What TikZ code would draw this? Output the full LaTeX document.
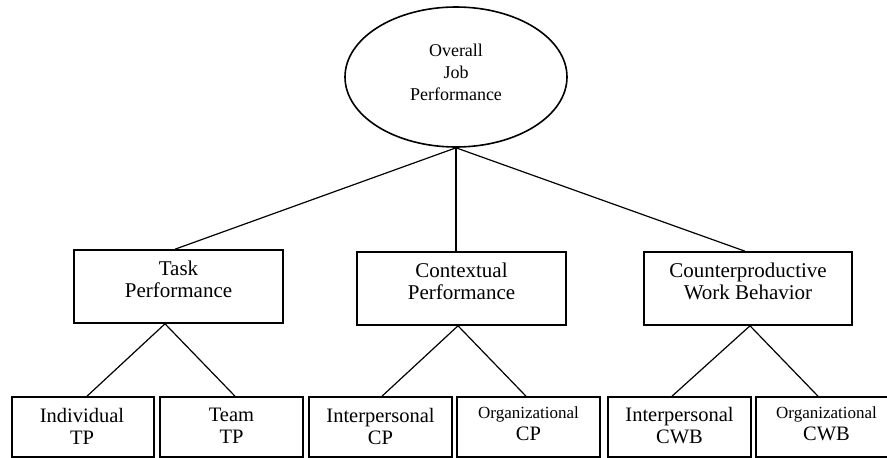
\documentclass[tikz,border=0pt]{standalone}
\usepackage{fontspec}
\setmainfont{Liberation Serif}
\usetikzlibrary{shapes.geometric}
\begin{document}
\begin{tikzpicture}[x=1pt,y=-1pt,
  boxshape/.style={draw=black,line width=1.6pt,rectangle,inner sep=0pt},
  midbox/.style={boxshape,minimum width=209pt,minimum height=73pt},
  lowbox/.style={boxshape,minimum width=143pt,minimum height=60pt},
  link/.style={draw=black,line width=1.2pt},
  txt/.style={align=center,inner sep=0pt,font=\fontsize{21}{22}\selectfont},
  lowtxt/.style={align=center,inner sep=0pt,font=\fontsize{20.5}{22}\selectfont},
  smalltxt/.style={font=\fontsize{17}{18}\selectfont}]
\useasboundingbox (0,0) rectangle (887,458);
\clip (0,0) rectangle (887,458);
\fill[white] (0,0) rectangle (887,458);
% top ellipse
\node[draw=black,ellipse,line width=1.6pt,minimum width=222pt,minimum height=140pt,inner sep=0pt] (ov) at (456,77) {};
\node[align=center,inner sep=0pt,font=\fontsize{18}{22}\selectfont] (ovT) at (456,72) {Overall\\Job\\Performance};
% middle boxes
\node[midbox] (task) at (178.5,286.5) {};
\node[txt] (taskT) at (178.5,279) {Task\\Performance};
\node[midbox] (ctx) at (461.5,288.5) {};
\node[txt] (ctxT) at (461.5,281) {Contextual\\Performance};
\node[midbox,minimum width=208pt] (cwb) at (748,288.5) {};
\node[txt] (cwbT) at (748,281) {Counterproductive\\Work Behavior};
% bottom boxes
\node[lowbox,minimum width=142pt] (ind) at (83,427) {};
\node[lowtxt] (indT) at (82,426) {Individual\\TP};
\node[lowbox] (team) at (231.5,427) {};
\node[lowtxt] (teamT) at (231.5,426) {Team\\TP};
\node[lowbox] (icp) at (380.5,427) {};
\node[lowtxt] (icpT) at (380.5,426) {Interpersonal\\CP};
\node[lowbox] (ocp) at (528.5,427) {};
\node[lowtxt] (ocpT) at (528.5,424) {{\fontsize{17}{18}\selectfont Organizational}\\CP};
\node[lowbox] (icwb) at (679.5,427) {};
\node[lowtxt] (icwbT) at (679.5,426) {Interpersonal\\CWB};
\node[lowbox,minimum width=141pt] (ocwb) at (826.5,427) {};
\node[lowtxt] (ocwbT) at (826.5,424) {{\fontsize{17}{18}\selectfont Organizational}\\CWB};
% connectors
\draw[link] (ov.south) -- ([xshift=-3.5pt]task.north);
\draw[link] (ov.south) -- (ov.south |- ctx.north);
\draw[link] (ov.south) -- ([xshift=-3pt]cwb.north);
\draw[link] ([xshift=-13.5pt]task.south) -- ([xshift=4pt]ind.north);
\draw[link] ([xshift=-13.5pt]task.south) -- ([xshift=3.5pt]team.north);
\draw[link] ([xshift=-3.5pt]ctx.south) -- ([xshift=1.5pt]icp.north);
\draw[link] ([xshift=-3.5pt]ctx.south) -- ([xshift=-2.5pt]ocp.north);
\draw[link] ([xshift=2pt]cwb.south) -- ([xshift=-7.5pt]icwb.north);
\draw[link] ([xshift=2pt]cwb.south) -- ([xshift=-8.5pt]ocwb.north);
\end{tikzpicture}
\end{document}
